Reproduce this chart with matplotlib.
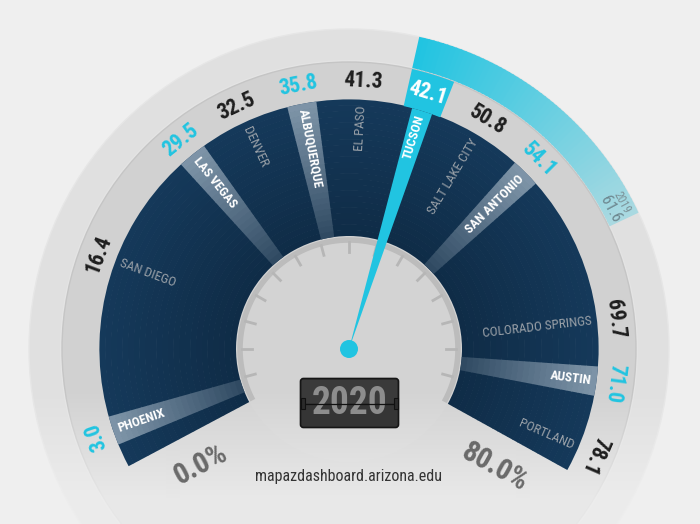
import numpy as np
import matplotlib.pyplot as plt
from matplotlib.patches import Wedge, Circle, FancyBboxPatch, Rectangle
from matplotlib.colors import to_rgb

plt.rcParams['font.family'] = ['Roboto Condensed', 'Roboto', 'DejaVu Sans']
plt.rcParams['font.stretch'] = 'condensed'

#===========================================================#

cities = ['Phoenix', 'San Diego', 'Las Vegas', 'Denver', 'Albuquerque', 'El Paso',
          'Tucson', 'Salt Lake City', 'San Antonio', 'Colorado Springs', 'Austin', 'Portland']
values = [3.0, 16.4, 29.5, 32.5, 35.8, 41.3, 42.1, 50.8, 54.1, 69.7, 71.0, 78.1]
peer = [True, False, True, False, True, False, True, False, True, False, True, False]
selected = 'Tucson'
year = 2020
prev_year = 2019
prev_value = 61.6
v_min, v_max = 0.0, 80.0

#===========================================================#

# gauge geometry (pixels, centre of dial at origin)
A0, A1 = 208.0, -29.0
R_IN, R_OUT, R_MID, R_RIM = 113, 249, 287, 320
CYAN = '#21c4e1'
NAVY_IN, NAVY_OUT = '#0f2c47', '#15395a'


def ang(v):
    return A0 + (v - v_min) / (v_max - v_min) * (A1 - A0)


def pol(r, a):
    return r * np.cos(np.radians(a)), r * np.sin(np.radians(a))


def mix(c1, c2, t):
    c1, c2 = np.array(to_rgb(c1)), np.array(to_rgb(c2))
    return tuple(c1 + (c2 - c1) * t)


def spread(a, gap, lo, hi):
    # push neighbouring labels apart so they do not collide
    a = list(a)
    for _ in range(2000):
        moved = False
        for i in range(len(a) - 1):
            d = a[i] - a[i + 1]
            if d < gap - 1e-6:
                s = (gap - d) / 2
                a[i] += s
                a[i + 1] -= s
                moved = True
        a[0] = min(a[0], hi)
        a[-1] = max(a[-1], lo)
        if not moved:
            break
    return a


pos = spread([ang(v) for v in values], 14, A1 + 5, A0 - 7)

fig = plt.figure(figsize=(7, 5.24), dpi=100, facecolor='#efefef')
ax = fig.add_axes([0, 0, 1, 1])
ax.set_xlim(-349, 351)
ax.set_ylim(-175, 349)
ax.set_aspect('equal')
ax.axis('off')

# rings
ax.add_patch(Circle((0, 0), R_RIM, fc='#e0e0e0', ec='#e6e6e6', lw=1, zorder=1))
ax.add_patch(Circle((0, 0), R_MID + 2, fc='#e4e4e4', ec='none', zorder=1.5))
ax.add_patch(Circle((0, 0), R_MID, fc='#d1d1d1', ec='#c5c5c5', lw=1, zorder=2))
ax.add_patch(Circle((0, 0), R_IN, fc='#d3d3d3', ec='none', zorder=3))

# fade towards the bottom
yy = 349 - np.arange(524) - 0.5
alpha = np.clip((-yy - 40) / 110, 0, 1) * 0.8
img = np.zeros((524, 1, 4))
img[:, 0, :3] = to_rgb('#efefef')
img[:, 0, 3] = alpha
ax.imshow(img, extent=[-349, 351, -175, 349], aspect='auto', zorder=4, interpolation='bilinear')

# dark sector with a soft radial gradient
n = 24
dr = (R_OUT - R_IN) / n
for k in range(n):
    r1 = R_IN + (k + 1) * dr
    ax.add_patch(Wedge((0, 0), r1 + 0.6, A1, A0, width=dr + 0.6,
                       fc=mix(NAVY_IN, NAVY_OUT, k / (n - 1)), ec='none', zorder=5))

# dial border and ticks
th = np.linspace(A1, A0, 200)
ax.plot(109 * np.cos(np.radians(th)), 109 * np.sin(np.radians(th)), color='#bcbcbc', lw=4, zorder=6,
        solid_capstyle='butt')
for t in np.arange(90 - 15 * 7, 90 + 15 * 8, 15):
    x0, y0 = pol(97, t)
    x1, y1 = pol(107, t)
    ax.plot([x0, x1], [y0, y1], color='#b6b6b6', lw=2, zorder=6)

# stripes for peer cities
hw = 3.4
for c, a, p in zip(cities, pos, peer):
    if not p or c == selected:
        continue
    for k in range(n):
        r1 = R_IN + (k + 1) * dr
        t = k / (n - 1)
        base = mix(NAVY_IN, NAVY_OUT, t)
        col = mix(base, '#c9d5df', 0.18 + 0.40 * t)
        ax.add_patch(Wedge((0, 0), r1 + 0.6, a - hw, a + hw, width=dr + 0.6,
                           fc=col, ec='none', zorder=7))

# previous-year band
ia = pos[cities.index(selected)]
a_prev = ang(prev_value)
m = 60
edges = np.linspace(ia + 4.4, a_prev, m + 1)
for k in range(m):
    ax.add_patch(Wedge((0, 0), R_RIM, edges[k + 1] - 0.3, edges[k], width=R_RIM - R_MID - 1,
                       fc=mix(CYAN, '#a9d9e1', k / (m - 1)), ec='none', zorder=8))
xt, yt = pol(R_MID + 9, a_prev + 2.6)
ax.text(xt, yt, f'{prev_value:.1f}', rotation=a_prev + 2.6 - 90, rotation_mode='anchor',
        ha='center', va='center', fontsize=11.5, color='#6d878f', zorder=9)
xt, yt = pol(R_MID + 23, a_prev + 2.6)
ax.text(xt, yt, str(prev_year), rotation=a_prev + 2.6 - 90, rotation_mode='anchor',
        ha='center', va='center', fontsize=8.5, color='#7d9399', zorder=9)

# needle and selected value block
ax.add_patch(Wedge((0, 0), R_OUT, ia - 2.4, ia + 2.4, fc=CYAN, ec='none', zorder=10))
ax.add_patch(Wedge((0, 0), R_MID, ia - 4.4, ia + 4.4, width=R_MID - R_OUT, fc=CYAN, ec='none', zorder=10))
ax.add_patch(Circle((0, 0), 9, fc=CYAN, ec='none', zorder=11))

# labels
for c, a, v, p in zip(cities, pos, values, peer):
    sel = c == selected
    if a > 90:
        rot, ha = a - 180, 'left'
    else:
        rot, ha = a, 'right'
    xt, yt = pol(244, a)
    ax.text(xt, yt, c.upper(), rotation=rot, rotation_mode='anchor', ha=ha, va='center',
            fontsize=9.5, color='white' if p else '#9aa1a8', fontweight='bold' if p else 'normal',
            zorder=12)
    xt, yt = pol((R_OUT + R_MID) / 2, a)
    vc = 'white' if sel else (CYAN if p else '#1e1e1e')
    ax.text(xt, yt, f'{v:.1f}', rotation=a - 90, rotation_mode='anchor', ha='center', va='center',
            fontsize=15.5, fontweight='bold', color=vc, zorder=12)

# scale end labels
xt, yt = pol(188, A0 + 10)
ax.text(xt, yt, f'{v_min:.1f}%', rotation=A0 - 180, rotation_mode='anchor', ha='center', va='center',
        fontsize=21, fontweight='bold', color='#6a6a6a', zorder=12)
xt, yt = pol(188, A1 - 10)
ax.text(xt, yt, f'{v_max:.1f}%', rotation=A1, rotation_mode='anchor', ha='center', va='center',
        fontsize=21, fontweight='bold', color='#6a6a6a', zorder=12)

# year flip box
ax.add_patch(FancyBboxPatch((-47, -77), 95, 46, boxstyle='round,pad=1.5,rounding_size=3',
                            fc='#353535', ec='#161616', lw=1.2, zorder=12))
ax.add_patch(Rectangle((-47, -54), 95, 23, fc='#3a3a3a', ec='none', zorder=12))
ax.text(0.5, -55, str(year), ha='center', va='center', fontsize=27, fontweight='bold',
        color='#8d8d8d', zorder=13)
ax.plot([-46, 47], [-55, -55], color='#111111', lw=0.9, zorder=14)
for xs in (-48, 45):
    ax.add_patch(Rectangle((xs, -60), 4, 11, fc='#2b2b2b', ec='#111111', lw=0.8, zorder=14))

ax.text(0, -128, 'mapazdashboard.arizona.edu', ha='center', va='center', fontsize=11.5,
        color='#333333', zorder=12)

plt.savefig('out.png', dpi=100, facecolor=fig.get_facecolor())
